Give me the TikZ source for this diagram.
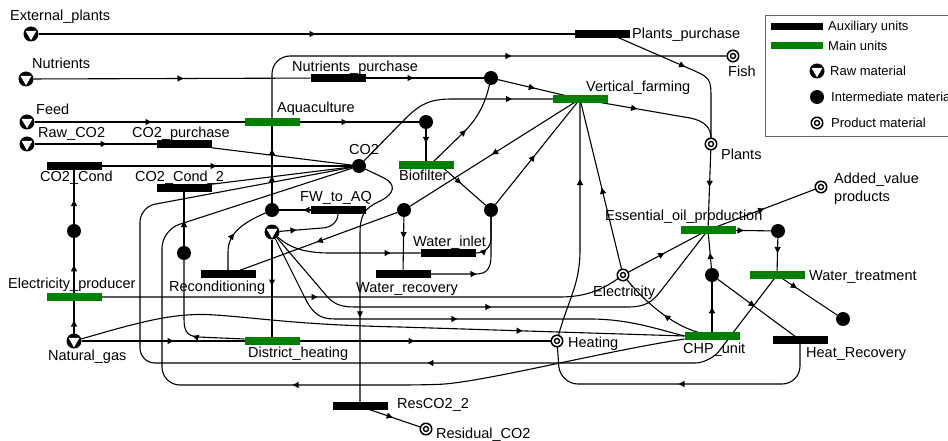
\documentclass[tikz,border=0pt]{standalone}
\usepackage{fontspec}
\setmainfont{Liberation Sans}
\usetikzlibrary{arrows.meta,decorations.markings}
\pgfdeclarelayer{bg}
\pgfsetlayers{bg,main}
\definecolor{mgreen}{RGB}{0,128,0}
\tikzset{
 conn/.style={draw,line width=1.1pt},
 mk/.style={postaction={decorate,decoration={markings,mark=at position #1 with {\arrow{Triangle[length=6pt,width=6pt]}}}}},
 ubar/.style={rectangle,inner sep=0pt,outer sep=0pt,minimum width=55pt,minimum height=7.5pt,fill=#1},
 auxbar/.style={ubar=black},
 mainbar/.style={ubar=mgreen},
 interm/.style={circle,fill=black,inner sep=0pt,outer sep=0pt,minimum size=14pt},
 prodm/.style={circle,draw,line width=1.5pt,fill=white,inner sep=0pt,outer sep=0pt,minimum size=11.5pt,
   path picture={\draw[line width=1.4pt] (path picture bounding box.center) circle (2.5pt);}},
 rawm/.style={circle,fill=black,inner sep=0pt,outer sep=0pt,minimum size=15pt,
   path picture={\fill[white] (path picture bounding box.center) +(150:6.3pt) -- +(30:6.3pt) -- +(-90:6.3pt) -- cycle;}},
 lbl/.style={anchor=base west,inner sep=0pt,font=\fontsize{14.5}{17}\selectfont},
 lgl/.style={anchor=base west,inner sep=0pt,font=\fontsize{13}{15}\selectfont},
}
\begin{document}
\begin{tikzpicture}[x=1pt,y=-1pt]
\useasboundingbox (0,0) rectangle (948,441);

% raw materials
\node[rawm] (extp) at (31,34) {};
\node[rawm] (nutr) at (26,79) {};
\node[rawm] (feed) at (27,122) {};
\node[rawm] (rawco2) at (27,144) {};
\node[rawm] (ng) at (74,341) {};
\node[rawm] (water) at (272,232) {};
% auxiliary units
\node[auxbar] (pp) at (602,34) {};
\node[auxbar] (np) at (338,78) {};
\node[auxbar] (cp) at (184,144) {};
\node[auxbar] (cc) at (74,166) {};
\node[auxbar] (cc2) at (184,188) {};
\node[auxbar] (fw) at (338,210) {};
\node[auxbar] (rec) at (228,274) {};
\node[auxbar] (wi) at (448,253) {};
\node[auxbar] (wr) at (403,274) {};
\node[auxbar] (res) at (360,406) {};
\node[auxbar] (hr) at (800,340) {};
% main units
\node[mainbar] (aq) at (272,122) {};
\node[mainbar] (vf) at (580,99) {};
\node[mainbar] (bf) at (426,165) {};
\node[mainbar] (ep) at (74,297) {};
\node[mainbar] (dh) at (272,341) {};
\node[mainbar] (eo) at (708,230) {};
\node[mainbar] (wt) at (777,275) {};
\node[mainbar] (chp) at (712,336) {};
% intermediate
\node[interm] (d1) at (491,78) {};
\node[interm] (d2) at (426,122) {};
\node[interm] (co2) at (359,166) {};
\node[interm] (d4) at (272,210) {};
\node[interm] (d5) at (404,210) {};
\node[interm] (d6) at (491,210) {};
\node[interm] (d7) at (74,231) {};
\node[interm] (d8) at (184,253) {};
\node[interm] (d9) at (778,231) {};
\node[interm] (d10) at (712,275) {};
\node[interm] (d11) at (843,319) {};
% products
\node[prodm] (fish) at (733,56) {};
\node[prodm] (plants) at (711,144) {};
\node[prodm] (av) at (821,187) {};
\node[prodm] (elec) at (623,275) {};
\node[prodm] (heat) at (557,341) {};
\node[prodm] (resco2) at (426,429) {};

% labels
\node[lbl] (l1) at (10,21) {External\_plants};
\node[lbl] (l2) at (32,69) {Nutrients};
\node[lbl] (l3) at (36,115) {Feed};
\node[lbl] (l4) at (38,138) {Raw\_CO2};
\node[lbl] (l5) at (132,138) {CO2\_purchase};
\node[lbl] (l6) at (40,182) {CO2\_Cond};
\node[lbl] (l7) at (135,182) {CO2\_Cond\_2};
\node[lbl] (l8) at (292,72) {Nutrients\_purchase};
\node[lbl] (l9) at (277,113) {Aquaculture};
\node[lbl] (l10) at (586,92) {Vertical\_farming};
\node[lbl] (l11) at (632,39) {Plants\_purchase};
\node[lbl] (l12) at (728,77) {Fish};
\node[lbl] (l13) at (721,160) {Plants};
\node[lbl] (l14) at (834,183) {Added\_value};
\node[lbl] (l15) at (834,201) {products};
\node[lbl] (l16) at (349,155) {CO2};
\node[lbl] (l17) at (399,181) {Biofilter};
\node[lbl] (l18) at (300,201) {FW\_to\_AQ};
\node[lbl] (l19) at (413,246) {Water\_inlet};
\node[lbl] (l20) at (356,292) {Water\_recovery};
\node[lbl] (l21) at (169,291) {Reconditioning};
\node[lbl] (l22) at (8,288) {Electricity\_producer};
\node[lbl] (l23) at (48,360) {Natural\_gas};
\node[lbl] (l24) at (248,357) {District\_heating};
\node[lbl] (l25) at (397,408) {ResCO2\_2};
\node[lbl] (l26) at (436,438) {Residual\_CO2};
\node[lbl] (l27) at (568,347) {Heating};
\node[lbl] (l28) at (593,296) {Electricity};
\node[lbl] (l29) at (683,353) {CHP\_unit};
\node[lbl] (l30) at (806,357) {Heat\_Recovery};
\node[lbl] (l31) at (605,220) {Essential\_oil\_production};
\node[lbl] (l32) at (809,280) {Water\_treatment};

% legend
\node[draw=black!60,line width=1.2pt,rectangle,inner sep=0pt,minimum width=192pt,minimum height=121pt,anchor=north west] (legend) at (765,15) {};
\node[ubar=black,minimum width=52pt,minimum height=7pt] (lg1) at (797,27) {};
\node[ubar=mgreen,minimum width=52pt,minimum height=7pt] (lg2) at (797,46) {};
\node[rawm] (lg3) at (817,71) {};
\node[interm] (lg4) at (817,97) {};
\node[prodm] (lg5) at (817,123) {};
\node[lgl] (lt1) at (828,31) {Auxiliary units};
\node[lgl] (lt2) at (828,51) {Main units};
\node[lgl] (lt3) at (830,76) {Raw material};
\node[lgl] (lt4) at (831,102) {Intermediate material};
\node[lgl] (lt5) at (831,128) {Product material};

\begin{pgfonlayer}{bg}
\fill[white] (0,0) rectangle (948,441);
\draw[conn,mk=277pt] (extp) -- (pp);
\draw[conn,mk=82pt] ([xshift=8pt]pp.center) -- (688,68) .. controls (711,78) .. (711,100) -- (plants);
\draw[conn,mk=150pt] (nutr) -- (np);
\draw[conn,mk=48pt] (np) -- (d1);
\draw[conn,mk=38pt] (d1) -- (vf.center);
\draw[conn,mk=117pt] (feed) -- (aq);
\draw[conn,mk=48pt] (aq) -- (d2);
\draw[conn,mk=14pt] (d2) -- (bf);
\draw[conn,mk=72pt] (rawco2) -- (cp);
\draw[conn] (cp.south east) -- (co2);
\draw[conn,mk=115pt] (cc) -- (co2);
\draw[conn] (cc2.north east) -- (co2);
\draw[conn,rounded corners=18pt,mk=294pt] (aq) |- (fish);
\draw[conn,mk=27pt,mk=54pt] (d4) -- (aq);
\draw[conn,mk=17pt] (water) -- (322,228) to[out=0,in=-90] (fw.south);
\draw[conn,mk=7pt] (fw) -- (d4);
\draw[conn,mk=38pt] (rec.north) -- (228,252) .. controls (228,232) and (245,222) .. (d4);
\draw[conn,mk=104pt] (vf.center) -- (d5);
\draw[conn,mk=86pt] (d5) -- ([xshift=12pt]rec.north);
\draw[conn,mk=21pt] (d5) -- (wr);
\draw[conn,mk=28pt] ([xshift=14pt]bf.center) -- (d6);
\draw[conn,mk=63pt] (d6) -- (vf.center);
\draw[conn,mk=50pt] ([xshift=4pt]bf.center) -- (466,130) .. controls (480,115) and (486,100) .. (d1);
\draw[conn,mk=-68pt] (co2) -- (405,119) .. controls (420,104) and (430,99) .. (452,99) -- (vf.center);
\draw[conn,mk=-85pt] (co2) -- (384,178) .. controls (396,184) and (396,194) .. (378,202) .. controls (364,209) and (360,215) .. (360,235) -- (res);
\draw[conn,mk=24pt] ([xshift=10pt]res.south) -- (resco2);
\draw[conn,mk=-30pt] (water) .. controls (290,248) and (305,253) .. (330,253) -- (wi);
\draw[conn,mk=12pt] (wi.east) .. controls (484,253) and (491,248) .. (491,238) -- (d6);
\draw[conn,mk=46pt] (wr.east) -- (476,274) .. controls (487,274) and (491,268) .. (491,256) -- (d6);
\draw[conn,mk=-252pt] (water) -- (325,294) .. controls (333,304) and (340,307) .. (355,307) -- (628,307) .. controls (645,307) and (652,302) .. (660,292) -- (eo.center);
\draw[conn,mk=-229pt] (water) -- (305,298) .. controls (313,314) and (320,319) .. (335,319) -- (590,319) .. controls (630,319) and (660,330) .. (chp.west);
\draw[conn,mk=216pt] (ep) -- (560,297) .. controls (585,297) and (602,290) .. (elec);
\draw[conn,mk=13pt] (ng) -- (ep);
\draw[conn,mk=28pt] (ep) -- (d7);
\draw[conn,mk=24pt] (d7) -- (cc);
\draw[conn,mk=92pt] (ng) -- (dh);
\draw[conn,mk=-162pt] (ng) .. controls (140,322) and (175,312) .. (215,315) .. controls (260,318) and (300,325) .. (400,327) -- (chp.west);
\draw[conn,mk=52pt] ([yshift=2pt]dh.west) -- (198,337) .. controls (186,336) and (184,330) .. (184,318) -- (d8);
\draw[conn,mk=25pt] (d8) -- (cc2);
\draw[conn,mk=115pt] (dh) -- (heat);
\draw[conn,mk=46pt] (water) -- (dh);
\draw[conn,mk=-80pt] (heat) .. controls (568,300) and (580,285) .. (580,250) -- (vf.center);
\draw[conn,mk=84pt] (elec) -- (vf.center);
\draw[conn,mk=41pt] (elec) -- (eo.center);
\draw[conn,mk=38pt] ([xshift=-14pt]chp.north) .. controls (672,325) and (645,302) .. (elec);
\draw[conn,mk=25pt] (chp) -- (d10);
\draw[conn,mk=15pt] (d10) -- (eo);
\draw[conn,mk=37pt] (plants) -- (eo);
\draw[conn,mk=60pt] (eo.center) -- (av);
\draw[conn,mk=8pt] (eo) -- (d9);
\draw[conn,mk=15pt] (d9) -- (wt);
\draw[conn,mk=17pt] (wt) -- (d11);
\draw[conn,mk=46pt] (d10) -- (hr);
\draw[conn,rounded corners=18pt,mk=154pt] (hr) |- (560,384) -- (heat);
\draw[conn,rounded corners=15pt,mk=386pt] (wt) -- (710,363) -- (140,363) -- (140,207) -- (co2);
\draw[conn,rounded corners=18pt,mk=-473pt] ([yshift=-3pt]chp.west) .. controls (600,352) and (480,383) .. (420,385) -- (162,385) -- (162,230) -- (co2);
\draw[conn,mk=58pt] (vf.center) -- (690,118) .. controls (705,121) and (711,128) .. (plants);
\end{pgfonlayer}
\end{tikzpicture}
\end{document}
